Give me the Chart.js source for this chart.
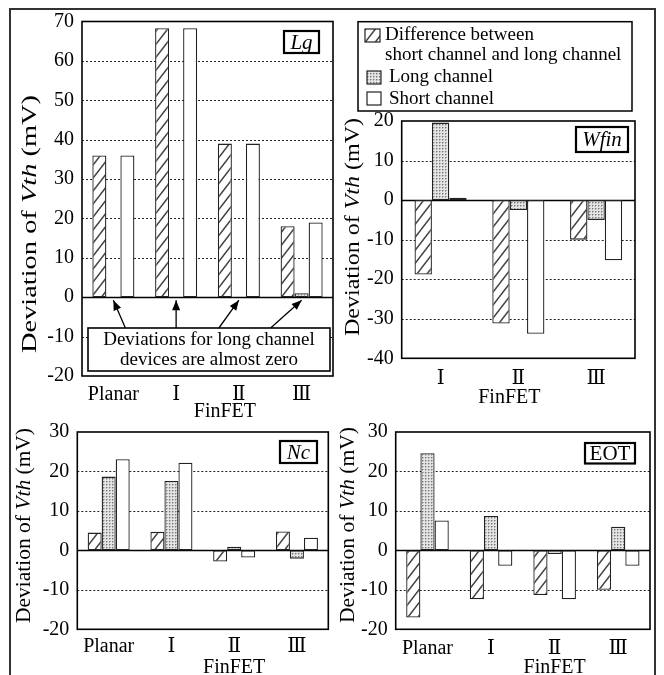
<!DOCTYPE html>
<html><head><meta charset="utf-8">
<script src="https://cdn.jsdelivr.net/npm/chart.js@4.4.0/dist/chart.umd.min.js"></script>
<style>
html,body{margin:0;padding:0;background:#fff;width:664px;height:675px;overflow:hidden;}
#frame{position:absolute;left:9px;top:8px;width:647px;height:720px;border:2px solid #333;box-sizing:border-box;}
canvas{position:absolute;}
</style></head><body>
<div id="frame"></div>
<canvas id="cLg"></canvas>
<canvas id="cWfin"></canvas>
<canvas id="cNc"></canvas>
<canvas id="cEOT"></canvas>
<script>
// ---------- DATA ----------
const seriesNames = ['Difference between short channel and long channel', 'Long channel', 'Short channel'];
const legendLines = [['Difference between', 'short channel and long channel'], ['Long channel'], ['Short channel']];
const groupLabel = 'FinFET';
const noteLines = ['Deviations for long channel', 'devices are almost zero'];

const lgCategories = ['Planar', 'Ⅰ', 'Ⅱ', 'Ⅲ'];
const lgDiff  = [36, 68.3, 39, 18];
const lgLong  = [0, 0, 0, 1];
const lgShort = [36, 68.3, 39, 19];
const lgTicks = [-20, -10, 0, 10, 20, 30, 40, 50, 60, 70];

const wfinCategories = ['Ⅰ', 'Ⅱ', 'Ⅲ'];
const wfinDiff  = [-18.8, -31.2, -10];
const wfinLong  = [19.6, -2.5, -5];
const wfinShort = [0.6, -33.8, -15.2];
const wfinTicks = [-40, -30, -20, -10, 0, 10, 20];

const ncCategories = ['Planar', 'Ⅰ', 'Ⅱ', 'Ⅲ'];
const ncDiff  = [4.5, 4.7, -2.8, 4.8];
const ncLong  = [18.7, 17.6, 0.9, -2.1];
const ncShort = [23.1, 22.2, -1.8, 3.2];
const ncTicks = [-20, -10, 0, 10, 20, 30];

const eotCategories = ['Planar', 'Ⅰ', 'Ⅱ', 'Ⅲ'];
const eotDiff  = [-17.0, -12.4, -11.3, -10];
const eotLong  = [24.6, 8.7, -0.9, 6.0];
const eotShort = [7.6, -3.9, -12.4, -3.9];
const eotTicks = [-20, -10, 0, 10, 20, 30];

// ---------- STYLE ----------
const FONT = '"Liberation Serif","Times New Roman",serif';
const XFONT = '"Liberation Serif","DejaVu Serif","Times New Roman",serif';

function hatchPattern(){
  const w = 10, h = 13, c = document.createElement('canvas'); c.width = w; c.height = h;
  const x = c.getContext('2d');
  x.fillStyle = '#fff'; x.fillRect(0, 0, w, h);
  x.strokeStyle = '#444'; x.lineWidth = 1.5;
  x.beginPath();
  [[0,0],[-w,0],[w,0],[0,-h],[0,h]].forEach(([dx, dy]) => {
    x.moveTo(dx - 1, h + dy + 1.3); x.lineTo(w + dx + 1, dy - 1.3);
  });
  x.stroke();
  return x.createPattern(c, 'repeat');
}
function dotPattern(){
  const c = document.createElement('canvas'); c.width = 3; c.height = 3;
  const x = c.getContext('2d');
  x.fillStyle = '#e4e4e4'; x.fillRect(0, 0, 3, 3);
  x.fillStyle = '#b0b0b0'; x.fillRect(1, 0, 1, 1); x.fillRect(0, 1, 1, 1);
  x.fillStyle = '#7a7a7a'; x.fillRect(0, 0, 1, 1);
  return x.createPattern(c, 'repeat');
}
const fills = [hatchPattern(), dotPattern(), '#ffffff'];

const panels = [
  {id:'cLg', cats:lgCategories, series:[lgDiff, lgLong, lgShort], ticks:lgTicks,
   canvas:{x:10, y:0, w:330, h:422}, plot:{l:82, t:21.5, r:333, b:376},
   tag:{text:'Lg', italic:true, box:[284, 31, 319, 53]},
   title:{cx:30, cy:224, len:258}, finfet:{dx:-14, y:412}, xpad:7,
   note:{box:[88, 328, 330, 371], cx:209, ly:[340.5, 360.5], arrowDx:[12, 0, -20, -31]}},
  {id:'cWfin', cats:wfinCategories, series:[wfinDiff, wfinLong, wfinShort], ticks:wfinTicks,
   canvas:{x:340, y:10, w:315, h:412}, plot:{l:401.7, t:121, r:635, b:358.3},
   tag:{text:'Wfin', italic:true, box:[576, 127, 628, 152]},
   title:{cx:353, cy:227, len:218}, finfet:{dx:-9, y:398}, xpad:8, legend:true},
  {id:'cNc', cats:ncCategories, series:[ncDiff, ncLong, ncShort], ticks:ncTicks,
   canvas:{x:10, y:400, w:325, h:275}, plot:{l:77.3, t:432, r:328.3, b:629.3},
   tag:{text:'Nc', italic:true, box:[280, 441, 317, 463]},
   title:{cx:24, cy:525.5, len:195}, finfet:{dx:0, y:668}, xpad:5},
  {id:'cEOT', cats:eotCategories, series:[eotDiff, eotLong, eotShort], ticks:eotTicks,
   canvas:{x:335, y:400, w:320, h:275}, plot:{l:395.7, t:432, r:650, b:629.3},
   tag:{text:'EOT', italic:false, box:[585, 443, 635, 463.5]},
   title:{cx:348, cy:525, len:196}, finfet:{dx:0, y:668}, xpad:7}
];

function drawYTitle(ctx, cx, cy, len, size){
  const parts = [['Deviation of ', ''], ['Vth', 'italic '], [' (mV)', '']];
  ctx.save();
  ctx.translate(cx, cy); ctx.rotate(-Math.PI / 2);
  let w = 0; const ws = [];
  for (const [t, st] of parts){ ctx.font = st + size + 'px ' + FONT; const m = ctx.measureText(t).width; ws.push(m); w += m; }
  ctx.scale(len / w, 1);
  let x = -w / 2; ctx.textBaseline = 'middle'; ctx.textAlign = 'left'; ctx.fillStyle = '#000';
  parts.forEach(([t, st], i) => { ctx.font = st + size + 'px ' + FONT; ctx.fillText(t, x, 0); x += ws[i]; });
  ctx.restore();
}

function arrow(ctx, x1, y1, x2, y2){
  ctx.beginPath(); ctx.moveTo(x1, y1); ctx.lineTo(x2, y2); ctx.stroke();
  const a = Math.atan2(y2 - y1, x2 - x1), L = 10, W = 4;
  ctx.beginPath();
  ctx.moveTo(x2, y2);
  ctx.lineTo(x2 - L * Math.cos(a) + W * Math.sin(a), y2 - L * Math.sin(a) - W * Math.cos(a));
  ctx.lineTo(x2 - L * Math.cos(a) - W * Math.sin(a), y2 - L * Math.sin(a) + W * Math.cos(a));
  ctx.closePath(); ctx.fill();
}

function panelPlugin(p){
  const ox = p.canvas.x, oy = p.canvas.y;
  return {
    id: 'panel_' + p.id,
    beforeDatasetsDraw(chart){
      const ctx = chart.ctx, ys = chart.scales.y, ca = chart.chartArea;
      ctx.save();
      ys.ticks.forEach(t => {
        if (t.value === ys.min || t.value === ys.max) return;
        const py = Math.round(ys.getPixelForValue(t.value)) + 0.5;
        if (t.value === 0){ ctx.setLineDash([]); ctx.strokeStyle = '#000'; ctx.lineWidth = 1.3; }
        else { ctx.setLineDash([2, 2]); ctx.strokeStyle = '#222'; ctx.lineWidth = 1; }
        ctx.beginPath(); ctx.moveTo(ca.left, py); ctx.lineTo(ca.right, py); ctx.stroke();
      });
      ctx.restore();
    },
    afterDatasetsDraw(chart){
      const ctx = chart.ctx, ca = chart.chartArea;
      ctx.save();
      ctx.strokeStyle = '#000'; ctx.lineWidth = 1.6; ctx.setLineDash([]);
      ctx.strokeRect(ca.left, ca.top, ca.right - ca.left, ca.bottom - ca.top);
      const b = p.tag.box;
      ctx.fillStyle = '#fff'; ctx.fillRect(b[0] - ox, b[1] - oy, b[2] - b[0], b[3] - b[1]);
      ctx.lineWidth = 2.2; ctx.strokeRect(b[0] - ox, b[1] - oy, b[2] - b[0], b[3] - b[1]);
      ctx.fillStyle = '#000'; ctx.textAlign = 'center'; ctx.textBaseline = 'middle';
      ctx.font = (p.tag.italic ? 'italic ' : '') + '21px ' + FONT;
      ctx.fillText(p.tag.text, (b[0] + b[2]) / 2 - ox, (b[1] + b[3]) / 2 - oy + 1);
      if (p.note){
        const n = p.note, xs = chart.scales.x, ys = chart.scales.y;
        const y0 = ys.getPixelForValue(0);
        ctx.strokeStyle = '#000'; ctx.fillStyle = '#000'; ctx.lineWidth = 1.3;
        n.arrowDx.forEach((dx, i) => {
          const tx = xs.getPixelForValue(i), ty = y0 + 3;
          arrow(ctx, tx + dx, n.box[1] - oy, tx, ty);
        });
        ctx.fillStyle = '#fff'; ctx.fillRect(n.box[0] - ox, n.box[1] - oy, n.box[2] - n.box[0], n.box[3] - n.box[1]);
        ctx.lineWidth = 1.6; ctx.strokeRect(n.box[0] - ox, n.box[1] - oy, n.box[2] - n.box[0], n.box[3] - n.box[1]);
        ctx.fillStyle = '#000'; ctx.font = '19px ' + FONT;
        noteLines.forEach((t, i) => ctx.fillText(t, n.cx - ox, n.ly[i] - oy));
      }
      ctx.restore();
    },
    afterDraw(chart){
      const ctx = chart.ctx;
      drawYTitle(ctx, p.title.cx - ox, p.title.cy - oy, p.title.len, 21);
      const xs = chart.scales.x;
      const idx = p.cats.indexOf('Ⅱ');
      ctx.save();
      ctx.fillStyle = '#000'; ctx.font = '20px ' + FONT; ctx.textAlign = 'center'; ctx.textBaseline = 'middle';
      ctx.fillText(groupLabel, xs.getPixelForValue(idx) + p.finfet.dx, p.finfet.y - oy);
      if (p.legend){
        const L = 358 - ox, T = 21.7 - oy, R = 632 - ox, B = 111 - oy;
        ctx.fillStyle = '#fff'; ctx.fillRect(L, T, R - L, B - T);
        ctx.strokeStyle = '#000'; ctx.lineWidth = 1.5; ctx.strokeRect(L, T, R - L, B - T);
        const icons = [[365, 29, 15, 13], [367, 71, 14, 13], [367, 92, 14, 13]];
        const textPos = [[[385, 35], [385, 55]], [[389, 77]], [[389, 99]]];
        icons.forEach((ic, i) => {
          ctx.fillStyle = fills[i]; ctx.fillRect(ic[0] - ox, ic[1] - oy, ic[2], ic[3]);
          ctx.strokeStyle = '#222'; ctx.lineWidth = 1.2; ctx.strokeRect(ic[0] - ox, ic[1] - oy, ic[2], ic[3]);
          ctx.fillStyle = '#000'; ctx.font = '19px ' + FONT; ctx.textAlign = 'left';
          legendLines[i].forEach((t, j) => ctx.fillText(t, textPos[i][j][0] - ox, textPos[i][j][1] - oy));
        });
      }
      ctx.restore();
    }
  };
}

function makeChart(p){
  const cv = document.getElementById(p.id);
  cv.width = p.canvas.w; cv.height = p.canvas.h;
  cv.style.left = p.canvas.x + 'px'; cv.style.top = p.canvas.y + 'px';
  cv.style.width = p.canvas.w + 'px'; cv.style.height = p.canvas.h + 'px';
  const ox = p.canvas.x, oy = p.canvas.y, tv = p.ticks;
  new Chart(cv, {
    type: 'bar',
    data: {
      labels: p.cats,
      datasets: p.series.map((d, i) => ({
        label: seriesNames[i], data: d, backgroundColor: fills[i],
        borderColor: '#222', borderWidth: 1.3, borderSkipped: false,
        categoryPercentage: 0.67, barPercentage: 1
      }))
    },
    options: {
      responsive: false, animation: false, devicePixelRatio: 1,
      layout: {padding: {left: 0, bottom: 0, top: p.plot.t - oy, right: ox + p.canvas.w - p.plot.r}},
      plugins: {legend: {display: false}, tooltip: {enabled: false}},
      scales: {
        x: {
          grid: {display: false, drawTicks: false}, border: {display: false},
          ticks: {font: {family: XFONT, size: 20}, color: '#000', padding: p.xpad, maxRotation: 0, autoSkip: false},
          afterFit: s => { s.height = oy + p.canvas.h - p.plot.b; }
        },
        y: {
          min: tv[0], max: tv[tv.length - 1],
          grid: {display: false, drawTicks: false}, border: {display: false},
          ticks: {font: {family: FONT, size: 20}, color: '#000', padding: 8, autoSkip: false},
          afterBuildTicks: s => { s.ticks = tv.map(v => ({value: v})); },
          afterFit: s => { s.width = p.plot.l - ox; }
        }
      }
    },
    plugins: [panelPlugin(p)]
  });
}
panels.forEach(makeChart);
</script>
</body></html>
